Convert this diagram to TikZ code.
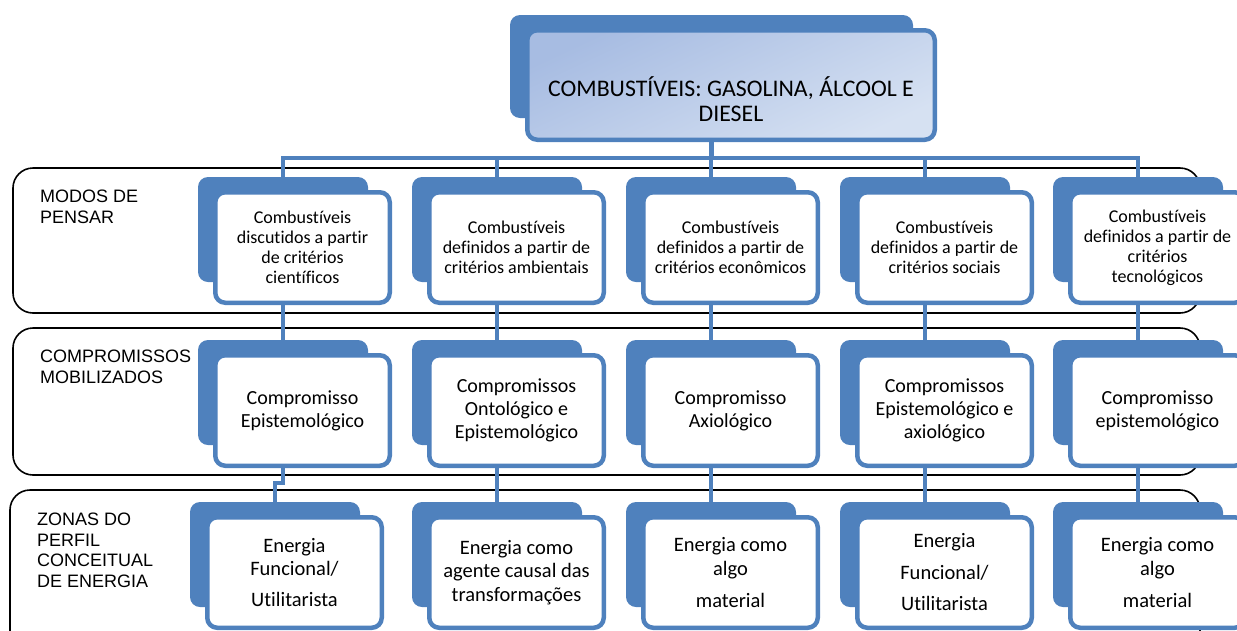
\documentclass[tikz,border=0pt]{standalone}
\usepackage{fontspec}
\newfontfamily\boxfont[Ligatures=NoCommon]{Carlito}
\newfontfamily\labfont{Liberation Sans}
\usetikzlibrary{calc}
\pgfdeclarelayer{bg}
\pgfsetlayers{bg,main}
\definecolor{sablue}{HTML}{4F81BD}
\definecolor{tgA}{HTML}{A7BCE2}
\definecolor{tgB}{HTML}{D6E1F2}
\begin{document}
\begin{tikzpicture}[x=1pt,y=-1pt,
  back/.style={fill=sablue, rounded corners=10pt, minimum width=170pt, minimum height=105pt, inner sep=0pt, outer sep=0pt},
  front/.style={draw=sablue, line width=4.5pt, fill=white, rounded corners=10pt, minimum width=174.5pt, minimum height=110.5pt, inner sep=0pt, outer sep=0pt, align=center, text=black},
  tA/.style={front, font=\boxfont\fontsize{18}{20}\selectfont},
  tB/.style={front, font=\boxfont\fontsize{20}{23}\selectfont},
  tC/.style={front, font=\boxfont\fontsize{20.5}{23.5}\selectfont},
  band/.style={draw=black, line width=1.6pt, rounded corners=20pt},
  conn/.style={draw=sablue, line width=4.5pt},
  lab/.style={font=\labfont\fontsize{18}{20.5}\selectfont, align=left, anchor=north west, inner sep=0pt},
]
\useasboundingbox (0,0) rectangle (1237,630);

% title
\node[back, minimum width=403pt, minimum height=103pt] (tb) at (711.5,66.5) {};
\node[draw=sablue, line width=4.5pt, rounded corners=10pt, top color=tgA, bottom color=tgB, shading angle=25,
      minimum width=407.5pt, minimum height=109.5pt, inner sep=0pt] (tf) at (731,85) {};
\node[font=\boxfont\fontsize{23.8}{25}\selectfont, align=center, inner sep=0pt] (tt) at ([yshift=-14pt]tf.center)
  {COMBUSTÍVEIS: GASOLINA, ÁLCOOL E\\DIESEL};

% row 1
\node[back] (b1-0) at (283,229.5) {};
\node[back] (b1-1) at (497,229.5) {};
\node[back] (b1-2) at (711,229.5) {};
\node[back] (b1-3) at (925,229.5) {};
\node[back] (b1-4) at (1138,229.5) {};
\node[tA] (f1-0) at ($(b1-0)+(19.5,18)$) {Combustíveis\\discutidos a partir\\de critérios\\científicos};
\node[tA] (f1-1) at ($(b1-1)+(19.5,18)$) {Combustíveis\\definidos a partir de\\critérios ambientais};
\node[tA] (f1-2) at ($(b1-2)+(19.5,18)$) {Combustíveis\\definidos a partir de\\critérios econômicos};
\node[tA] (f1-3) at ($(b1-3)+(19.5,18)$) {Combustíveis\\definidos a partir de\\critérios sociais};
\node[tA] (f1-4) at ($(b1-4)+(19.5,18)$) {Combustíveis\\definidos a partir de\\critérios\\tecnológicos};

% row 2
\node[back] (b2-0) at (283,392.5) {};
\node[back] (b2-1) at (497,392.5) {};
\node[back] (b2-2) at (711,392.5) {};
\node[back] (b2-3) at (925,392.5) {};
\node[back] (b2-4) at (1138,392.5) {};
\node[tB] (f2-0) at ($(b2-0)+(19.5,18)$) {Compromisso\\Epistemológico};
\node[tB] (f2-1) at ($(b2-1)+(19.5,18)$) {Compromissos\\Ontológico e\\Epistemológico};
\node[tB] (f2-2) at ($(b2-2)+(19.5,18)$) {Compromisso\\Axiológico};
\node[tB] (f2-3) at ($(b2-3)+(19.5,18)$) {Compromissos\\Epistemológico e\\axiológico};
\node[tB] (f2-4) at ($(b2-4)+(19.5,18)$) {Compromisso\\epistemológico};

% row 3
\node[back] (b3-0) at (275,554.5) {};
\node[back] (b3-1) at (497,554.5) {};
\node[back] (b3-2) at (711,554.5) {};
\node[back] (b3-3) at (925,554.5) {};
\node[back] (b3-4) at (1138,554.5) {};
\node[tC] (f3-0) at ($(b3-0)+(19.5,18)$) {Energia\\Funcional/\\[7pt]Utilitarista};
\node[tC] (f3-1) at ($(b3-1)+(19.5,18)$) {Energia como\\agente causal das\\transformações};
\node[tC] (f3-2) at ($(b3-2)+(19.5,18)$) {Energia como\\algo\\[8.5pt]material};
\node[tC] (f3-3) at ($(b3-3)+(19.5,18)$) {Energia\\[8pt]Funcional/\\[8pt]Utilitarista};
\node[tC] (f3-4) at ($(b3-4)+(19.5,18)$) {Energia como\\algo\\[8.5pt]material};

% labels
\node[lab] (l1) at (40,190) {MODOS DE\\PENSAR};
\node[lab] (l2) at (40,350) {COMPROMISSOS\\MOBILIZADOS};
\node[lab] (l3) at (37,513) {ZONAS DO\\PERFIL\\CONCEITUAL\\DE ENERGIA};

\begin{pgfonlayer}{bg}
  \draw[band] (13,168) rectangle (1200,313);
  \draw[band] (13,328) rectangle (1200,475);
  \draw[band] (10,490) rectangle (1200,660);
  \coordinate (bar) at (0,158);
  \draw[conn] (b1-0.north) -- (b1-0.north |- bar) -- (b1-4.north |- bar) -- (b1-4.north);
  \draw[conn] (tb.south) -- (tb.south |- bar);
  \foreach \c in {1,2,3} { \draw[conn] (b1-\c.north) -- (b1-\c.north |- bar); }
  \foreach \c in {1,2,3,4} {
    \draw[conn] (b1-\c.south) -- (b2-\c.north);
    \draw[conn] (b2-\c.south) -- (b3-\c.north);
  }
  \draw[conn] (b1-0.south) -- (b2-0.north);
  \draw[conn] (b2-0.south) -- ++(0,38) -| (b3-0.north);
\end{pgfonlayer}
\end{tikzpicture}
\end{document}
